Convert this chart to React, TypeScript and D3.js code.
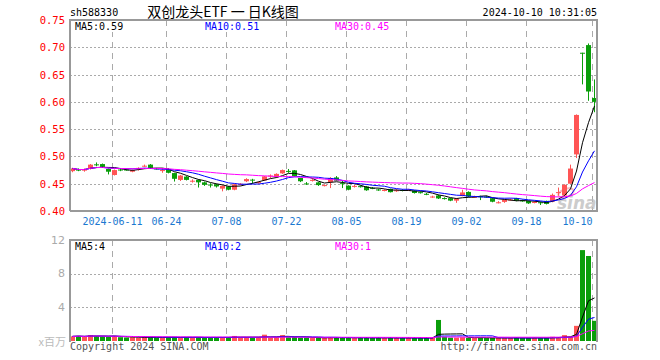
import * as d3 from "d3";
import { useEffect, useRef } from "react";

// trading days 2024-05-30 .. 2024-10-10
const dates = [
  "05-30", "05-31",
  "06-03", "06-04", "06-05", "06-06", "06-07", "06-11", "06-12", "06-13", "06-14",
  "06-17", "06-18", "06-19", "06-20", "06-21", "06-24", "06-25", "06-26", "06-27", "06-28",
  "07-01", "07-02", "07-03", "07-04", "07-05", "07-08", "07-09", "07-10", "07-11", "07-12",
  "07-15", "07-16", "07-17", "07-18", "07-19", "07-22", "07-23", "07-24", "07-25", "07-26",
  "07-29", "07-30", "07-31",
  "08-01", "08-02", "08-05", "08-06", "08-07", "08-08", "08-09", "08-12", "08-13", "08-14",
  "08-15", "08-16", "08-19", "08-20", "08-21", "08-22", "08-23", "08-26", "08-27", "08-28",
  "08-29", "08-30",
  "09-02", "09-03", "09-04", "09-05", "09-06", "09-09", "09-10", "09-11", "09-12", "09-13",
  "09-18", "09-19", "09-20", "09-23", "09-24", "09-25", "09-26", "09-27", "09-30",
  "10-08", "10-09", "10-10",
];

const opens = [
  0.473, 0.477, 0.474, 0.477, 0.4855, 0.486, 0.477, 0.466, 0.476, 0.476,
  0.472, 0.477, 0.4825, 0.485, 0.478, 0.474, 0.477, 0.4695, 0.457, 0.463,
  0.455, 0.457, 0.4525, 0.4485, 0.449, 0.441, 0.445, 0.439, 0.4495, 0.4545,
  0.4575, 0.451, 0.456, 0.4645, 0.462, 0.469, 0.4735, 0.4745, 0.4605, 0.4505,
  0.4565, 0.4525, 0.447, 0.453, 0.4615, 0.451, 0.4465, 0.4455, 0.4455, 0.445,
  0.4425, 0.4395, 0.438, 0.4405, 0.4375, 0.4385, 0.4385, 0.4375, 0.4345, 0.4315,
  0.426, 0.4285, 0.4237, 0.4235, 0.419, 0.428, 0.435, 0.4255, 0.427, 0.4265,
  0.4235, 0.4155, 0.4167, 0.4205, 0.4235, 0.4195, 0.4185, 0.416, 0.416, 0.4185,
  0.4173, 0.434, 0.4284, 0.45, 0.5037, 0.69, 0.704, 0.607,
];

const highs = [
  0.479, 0.478, 0.478, 0.486, 0.489, 0.487, 0.478, 0.476, 0.477, 0.477,
  0.476, 0.48, 0.485, 0.486, 0.479, 0.478, 0.478, 0.47, 0.466, 0.464,
  0.458, 0.458, 0.454, 0.451, 0.45, 0.447, 0.446, 0.45, 0.451, 0.46,
  0.459, 0.454, 0.464, 0.467, 0.469, 0.476, 0.477, 0.475, 0.461, 0.453,
  0.459, 0.453, 0.449, 0.462, 0.464, 0.455, 0.447, 0.448, 0.447, 0.446,
  0.444, 0.441, 0.44, 0.441, 0.44, 0.44, 0.4405, 0.438, 0.436, 0.433,
  0.428, 0.43, 0.425, 0.424, 0.424, 0.439, 0.436, 0.428, 0.428, 0.428,
  0.424, 0.418, 0.421, 0.423, 0.424, 0.421, 0.419, 0.418, 0.417, 0.419,
  0.432, 0.443, 0.449, 0.485, 0.577, 0.69, 0.707, 0.641,
];

const lows = [
  0.471, 0.473, 0.472, 0.476, 0.482, 0.48, 0.467, 0.465, 0.473, 0.474,
  0.471, 0.474, 0.481, 0.478, 0.476, 0.47, 0.469, 0.454, 0.455, 0.456,
  0.452, 0.443, 0.446, 0.443, 0.443, 0.436, 0.438, 0.438, 0.447, 0.453,
  0.45, 0.45, 0.455, 0.46, 0.461, 0.468, 0.47, 0.463, 0.453, 0.448,
  0.454, 0.446, 0.445, 0.442, 0.455, 0.442, 0.438, 0.443, 0.443, 0.437,
  0.44, 0.437, 0.436, 0.434, 0.435, 0.436, 0.437, 0.432, 0.432, 0.429,
  0.424, 0.422, 0.421, 0.418, 0.415, 0.427, 0.425, 0.424, 0.42, 0.424,
  0.416, 0.414, 0.415, 0.419, 0.418, 0.417, 0.413, 0.414, 0.411, 0.412,
  0.416, 0.428, 0.427, 0.45, 0.497, 0.632, 0.602, 0.581,
];

const closes = [
  0.478, 0.474, 0.476, 0.485, 0.485, 0.481, 0.472, 0.475, 0.475, 0.4755,
  0.475, 0.479, 0.483, 0.479, 0.477, 0.475, 0.47, 0.459, 0.465, 0.457,
  0.4555, 0.4525, 0.448, 0.448, 0.445, 0.446, 0.439, 0.449, 0.45, 0.4585,
  0.457, 0.453, 0.4635, 0.465, 0.468, 0.475, 0.473, 0.464, 0.4545, 0.45,
  0.457, 0.4475, 0.4475, 0.4605, 0.4555, 0.4505, 0.439, 0.446, 0.445, 0.438,
  0.442, 0.439, 0.4385, 0.4345, 0.438, 0.438, 0.439, 0.433, 0.434, 0.431,
  0.4265, 0.423, 0.4232, 0.419, 0.4225, 0.434, 0.4265, 0.426, 0.4265, 0.426,
  0.417, 0.416, 0.4204, 0.421, 0.419, 0.419, 0.414, 0.4165, 0.4155, 0.413,
  0.4296, 0.4346, 0.448, 0.4778, 0.576, 0.689, 0.619, 0.6,
];

// volume, millions
const volumes = [
  0.55, 0.6, 0.5, 0.7, 0.6, 0.55, 0.5, 0.6, 0.45, 0.4,
  0.45, 0.4, 0.5, 0.45, 0.4, 0.4, 0.45, 0.5, 0.4, 0.45,
  0.4, 0.45, 0.4, 0.4, 0.45, 0.4, 0.45, 0.6, 0.4, 0.45,
  0.4, 0.45, 0.75, 0.4, 0.45, 0.7, 0.45, 0.5, 0.4, 0.4,
  0.35, 0.4, 0.35, 0.45, 0.4, 0.4, 0.4, 0.35, 0.4, 0.4,
  0.35, 0.4, 0.35, 0.4, 0.35, 0.35, 0.4, 0.35, 0.35, 0.35,
  0.4, 2.5, 0.5, 0.4, 0.4, 0.45, 0.4, 0.35, 0.4, 0.35,
  0.35, 0.4, 0.35, 0.35, 0.4, 0.35, 0.35, 0.4, 0.35, 0.35,
  0.5, 0.45, 0.7, 0.5, 1.8, 10.8, 10.1, 2.4,
];

const tickDates = ["06-11", "06-24", "07-08", "07-22", "08-05", "08-19", "09-02", "09-18", "10-10"];
const tickLabels = ["2024-06-11", "06-24", "07-08", "07-22", "08-05", "08-19", "09-02", "09-18", "10-10"];
const priceTicks = [0.4, 0.45, 0.5, 0.55, 0.6, 0.65, 0.7, 0.75];
const volTicks = [4, 8, 12];
const maPeriods = [5, 10, 30];
const maColors = ["#000000", "#0000ff", "#ff00ff"];
const volMaLabels = ["4", "2", "1"];

const UP = "#ff5555";
const DOWN = "#0a9e0a";
const MONO = "'DejaVu Sans Mono', monospace";
const CJK = "'Noto Sans CJK SC', sans-serif";

function movingAvg(values: number[], n: number) {
  return values.map((_, i) => d3.mean(values.slice(Math.max(0, i - n + 1), i + 1)) as number);
}

export default function App() {
  const ref = useRef<SVGSVGElement>(null);

  useEffect(() => {
    if (!ref.current) return;
    const svg = d3.select(ref.current);
    svg.selectAll("*").remove();

    const L = 70;
    const R = 597;
    const x = d3.scalePoint<string>().domain(dates).range([72.5, 594.5]);
    const y = d3.scaleLinear().domain([0.4, 0.75]).range([211, 20]);
    const yv = d3.scaleLinear().domain([0, 12]).range([341, 240]);

    const idx = d3.range(dates.length);
    const isUp = (i: number) => closes[i] > opens[i];

    // titles
    svg.append("text").attr("x", L).attr("y", 16).style("font-family", MONO).style("font-size", "10px")
      .attr("fill", "#000").text("sh588330");
    svg.append("text").attr("x", 223).attr("y", 17).attr("text-anchor", "middle").style("font-family", CJK)
      .style("font-size", "14px").attr("fill", "#000").text("双创龙头ETF 一 日K线图");
    svg.append("text").attr("x", R).attr("y", 16).attr("text-anchor", "end").style("font-family", MONO)
      .style("font-size", "10px").attr("fill", "#000").text("2024-10-10 10:31:05");

    // grids
    const g = svg.append("g");
    priceTicks.slice(1, -1).forEach((t) => {
      g.append("line").attr("x1", L).attr("x2", R).attr("y1", Math.round(y(t)) + 0.5).attr("y2", Math.round(y(t)) + 0.5)
        .attr("stroke", "#aaa").attr("stroke-dasharray", "2,2");
    });
    volTicks.slice(0, -1).forEach((t) => {
      g.append("line").attr("x1", L).attr("x2", R).attr("y1", Math.round(yv(t)) + 0.5).attr("y2", Math.round(yv(t)) + 0.5)
        .attr("stroke", "#aaa").attr("stroke-dasharray", "2,2");
    });
    tickDates.forEach((d) => {
      const gx = (x(d) as number) - 2;
      g.append("line").attr("x1", gx).attr("x2", gx).attr("y1", 20).attr("y2", 211)
        .attr("stroke", "#aaa").attr("stroke-dasharray", "6,5");
      g.append("line").attr("x1", gx).attr("x2", gx).attr("y1", 240).attr("y2", 341)
        .attr("stroke", "#aaa").attr("stroke-dasharray", "6,5");
    });

    // axis labels
    priceTicks.forEach((t) => {
      svg.append("text").attr("x", 65).attr("y", y(t)).attr("text-anchor", "end").attr("dominant-baseline", "central")
        .style("font-family", MONO).style("font-size", "10.5px").attr("fill", "#ff0000").text(t.toFixed(2));
    });
    volTicks.forEach((t) => {
      svg.append("text").attr("x", 65).attr("y", yv(t)).attr("text-anchor", "end").attr("dominant-baseline", "central")
        .style("font-family", "'DejaVu Sans', sans-serif").style("font-size", "11px").attr("fill", "#aaa").text(String(t));
    });
    svg.append("text").attr("x", 66).attr("y", 346).attr("text-anchor", "end").style("font-family", CJK)
      .style("font-size", "11px").attr("fill", "#bbb").text("x百万");
    tickDates.forEach((d, i) => {
      const last = i === tickDates.length - 1;
      svg.append("text").attr("x", (x(d) as number) - 2).attr("y", 225).attr("text-anchor", last ? "end" : "middle")
        .style("font-family", MONO).style("font-size", "10px").attr("fill", "#1a78d0").text(tickLabels[i]);
    });

    // watermark
    const wm = svg.append("g").attr("opacity", 0.75);
    wm.append("ellipse").attr("cx", 566).attr("cy", 193).attr("rx", 8).attr("ry", 4)
      .attr("fill", "none").attr("stroke", "#f3a0a8").attr("stroke-width", 2).attr("transform", "rotate(-20,566,193)");
    wm.append("text").attr("x", 557).attr("y", 209).style("font-family", "'DejaVu Sans', sans-serif")
      .style("font-size", "17px").style("font-weight", "bold").style("font-style", "italic").attr("fill", "#bbb").text("sina");

    // candles
    const cg = svg.append("g");
    idx.forEach((i) => {
      const cx = x(dates[i]) as number;
      const col = isUp(i) ? UP : DOWN;
      cg.append("line").attr("x1", cx).attr("x2", cx).attr("y1", y(highs[i])).attr("y2", y(lows[i]))
        .attr("stroke", col).attr("stroke-width", 1);
      const top = y(Math.max(opens[i], closes[i]));
      const h = Math.max(1, y(Math.min(opens[i], closes[i])) - top);
      cg.append("rect").attr("x", cx - 2.5).attr("y", top).attr("width", 5).attr("height", h).attr("fill", col);
    });

    // volume bars
    idx.forEach((i) => {
      const cx = x(dates[i]) as number;
      cg.append("rect").attr("x", cx - 2.5).attr("y", yv(volumes[i])).attr("width", 5)
        .attr("height", yv(0) - yv(volumes[i])).attr("fill", isUp(i) ? UP : DOWN);
    });

    // moving averages
    maPeriods.forEach((n, k) => {
      const ma = movingAvg(closes, n);
      const line = d3.line<number>().x((i) => x(dates[i]) as number).y((i) => y(ma[i]));
      svg.append("path").attr("d", line(idx)).attr("fill", "none").attr("stroke", maColors[k]).attr("stroke-width", 1);
      const vma = movingAvg(volumes, n);
      const vline = d3.line<number>().x((i) => x(dates[i]) as number).y((i) => yv(vma[i]));
      svg.append("path").attr("d", vline(idx)).attr("fill", "none").attr("stroke", maColors[k]).attr("stroke-width", 1);
    });

    // frames
    svg.append("path").attr("d", `M${L},211V20H${R}V211H${L}`).attr("fill", "none").attr("stroke", "#999").attr("stroke-width", 2);
    svg.append("path").attr("d", `M${L},342V240H${R}V342`).attr("fill", "none").attr("stroke", "#999").attr("stroke-width", 2);

    // legends
    const legX = [75, 205, 335];
    maPeriods.forEach((n, k) => {
      const ma = movingAvg(closes, n);
      const pTxt = `MA${n}:${ma[ma.length - 1].toFixed(2)}`;
      const vTxt = `MA${n}:${volMaLabels[k]}`;
      [[30, pTxt], [250, vTxt]].forEach(([yy, txt]) => {
        if (k < 2) {
          svg.append("rect").attr("x", legX[k] - 1).attr("y", (yy as number) - 9).attr("width", (txt as string).length * 6 + 2)
            .attr("height", 11).attr("fill", "#fff");
        }
        svg.append("text").attr("x", legX[k]).attr("y", yy as number).style("font-family", MONO).style("font-size", "10px")
          .attr("fill", maColors[k]).text(txt as string);
      });
    });

    // footer
    svg.append("text").attr("x", L).attr("y", 350).style("font-family", MONO).style("font-size", "10px")
      .attr("fill", "#555").text("Copyright 2024 SINA.COM");
    svg.append("text").attr("x", R).attr("y", 350).attr("text-anchor", "end").style("font-family", MONO)
      .style("font-size", "10px").attr("fill", "#555").text("http://finance.sina.com.cn");
  }, []);

  return (
    <svg
      ref={ref}
      width={660}
      height={360}
      style={{ position: "absolute", left: 0, top: 0, background: "#fff" }}
    />
  );
}
